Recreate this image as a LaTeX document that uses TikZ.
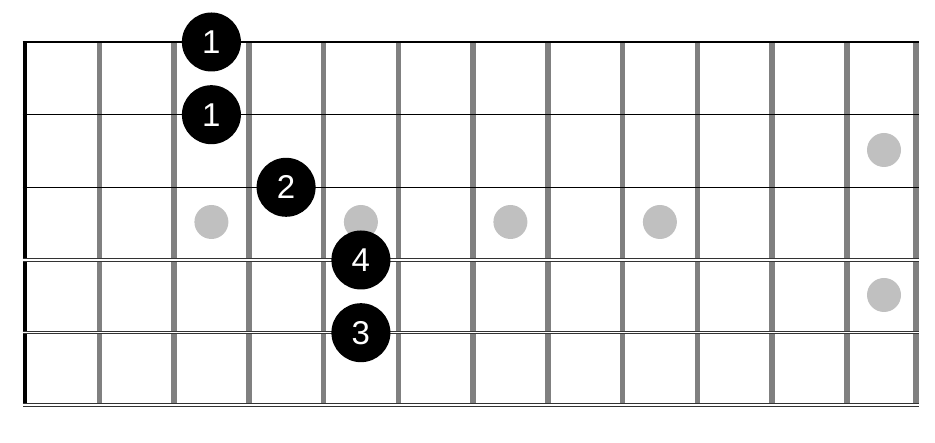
\documentclass[tikz,border=0pt]{standalone}
\usepackage{fontspec}
\setmainfont{Liberation Sans}

\definecolor{fretgray}{HTML}{808080}
\definecolor{inlaygray}{HTML}{C0C0C0}
\definecolor{stringgray}{HTML}{333333}

\begin{document}
\begin{tikzpicture}[x=1pt, y=1pt,
  fret/.style={fretgray, line width=5.5pt},
  thinstring/.style={black, line width=1.2pt},
  woundstring/.style={stringgray, line width=1pt, double=white, double distance=1.6pt},
  inlay/.style={circle, fill=inlaygray, minimum size=34pt, inner sep=0pt},
  finger/.style={circle, fill=black, text=white, minimum size=59pt, inner sep=0pt,
    font=\fontsize{33}{33}\selectfont}]
\useasboundingbox (0,0) rectangle (935,443);

% Capotasto
\draw[line width=4.7pt] (24.9,37.7) -- (24.9,401);

% Tasti
\draw[fret] (99.25,37.7) -- (99.25,401);
\draw[fret] (174,37.7) -- (174,401);
\draw[fret] (248.75,37.7) -- (248.75,401);
\draw[fret] (323.5,37.7) -- (323.5,401);
\draw[fret] (398.25,37.7) -- (398.25,401);
\draw[fret] (473,37.7) -- (473,401);
\draw[fret] (547.75,37.7) -- (547.75,401);
\draw[fret] (622.5,37.7) -- (622.5,401);
\draw[fret] (697.25,37.7) -- (697.25,401);
\draw[fret] (772,37.7) -- (772,401);
\draw[fret] (846.75,37.7) -- (846.75,401);
\draw[fret] (916,37.7) -- (916,401);

% Corde
\draw[thinstring] (22.5,401) -- (918.5,401);
\draw[thinstring] (22.5,328.3) -- (918.5,328.3);
\draw[thinstring] (22.5,255.7) -- (918.5,255.7);
\draw[woundstring] (22.5,183) -- (918.5,183);
\draw[woundstring] (22.5,110.3) -- (918.5,110.3);
\draw[woundstring] (22.5,37.7) -- (918.5,37.7);

% Segnatasti
\node[inlay] (dot3) at (211.4,221) {};
\node[inlay] (dot5) at (360.9,221) {};
\node[inlay] (dot7) at (510.4,221) {};
\node[inlay] (dot9) at (659.9,221) {};
\node[inlay] (dot12a) at (884,293) {};
\node[inlay] (dot12b) at (884,148) {};

% Diteggiatura
\node[finger] (f1a) at (211.4,401) {1};
\node[finger] (f1b) at (211.4,328.3) {1};
\node[finger] (f2) at (286.1,255.7) {2};
\node[finger] (f4) at (360.9,183) {4};
\node[finger] (f3) at (360.9,110.3) {3};
\end{tikzpicture}
\end{document}
